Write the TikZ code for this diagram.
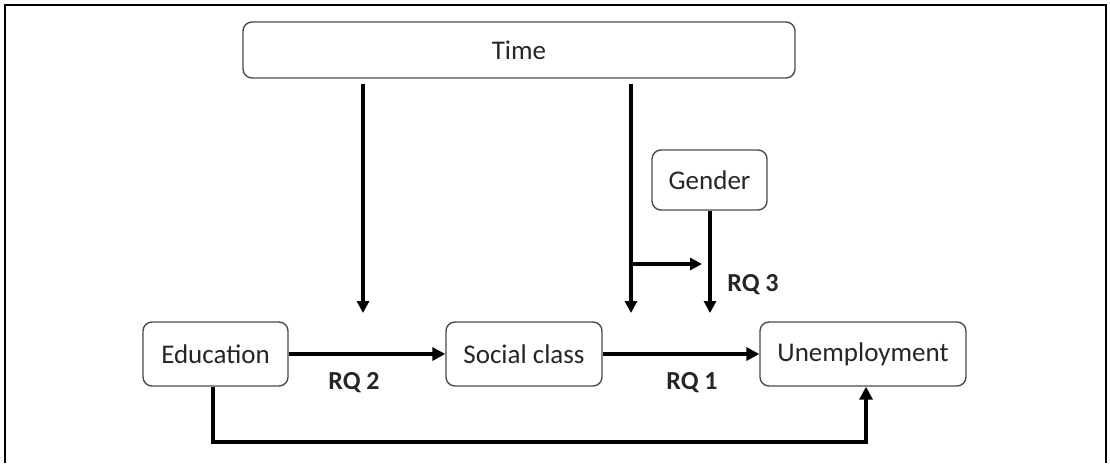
\documentclass[tikz,border=0pt]{standalone}
\usepackage{fontspec}
\setmainfont{Carlito}
\usetikzlibrary{arrows.meta}
\begin{document}
\begin{tikzpicture}[x=1pt,y=-1pt,
  box/.style={draw=black!70,line width=1.4pt,rounded corners=9pt,fill=white,font=\fontsize{27}{32}\selectfont,text=black!85},
  conn/.style={line width=4pt,-{Triangle[length=13pt,width=13pt]}},
  vconn/.style={line width=3.3pt,-{Triangle[length=12pt,width=12pt]}},
  lab/.style={font=\bfseries\fontsize{26}{30}\selectfont,text=black!85}]
\useasboundingbox (0,0) rectangle (1110,463);
\draw[line width=2.4pt] (5,463) -- (5,5) -- (1106,5) -- (1106,463);
\node[box,minimum width=552pt,minimum height=56pt] (time) at (519,50) {Time};
\node[box,minimum width=115pt,minimum height=60pt] (gender) at (709.5,180) {Gender};
\node[box,minimum width=145pt,minimum height=64pt] (edu) at (215.5,354) {Education};
\node[box,minimum width=156pt,minimum height=64pt] (soc) at (524,354) {Social class};
\node[box,minimum width=206pt,minimum height=64pt] (unemp) at (863,354) {Unemployment};
\coordinate (t1) at (363,84);
\coordinate (t1e) at (363,313);
\coordinate (t2) at (631,84);
\coordinate (t2e) at (631,313);
\coordinate (br) at (631,264);
\coordinate (bre) at (702,264);
\coordinate (ge) at (710,313);
\draw[vconn] (t1) -- (t1e);
\draw[vconn] (t2) -- (t2e);
\draw[vconn] (br) -- (bre);
\draw[vconn] (gender.south -| ge) -- (ge);
\draw[conn] (edu.east) -- (soc.west);
\draw[conn] (soc.east) -- (unemp.west);
\coordinate (bl) at (213,442);
\coordinate (brr) at (866,442);
\draw[conn,line width=3.6pt] (edu.south -| bl) -- (bl) -- (brr) -- (unemp.south -| brr);
\node[lab] (rq2) at (354,383) {RQ 2};
\node[lab] (rq1) at (692,383) {RQ 1};
\node[lab] (rq3) at (753,285) {RQ 3};
\end{tikzpicture}
\end{document}
